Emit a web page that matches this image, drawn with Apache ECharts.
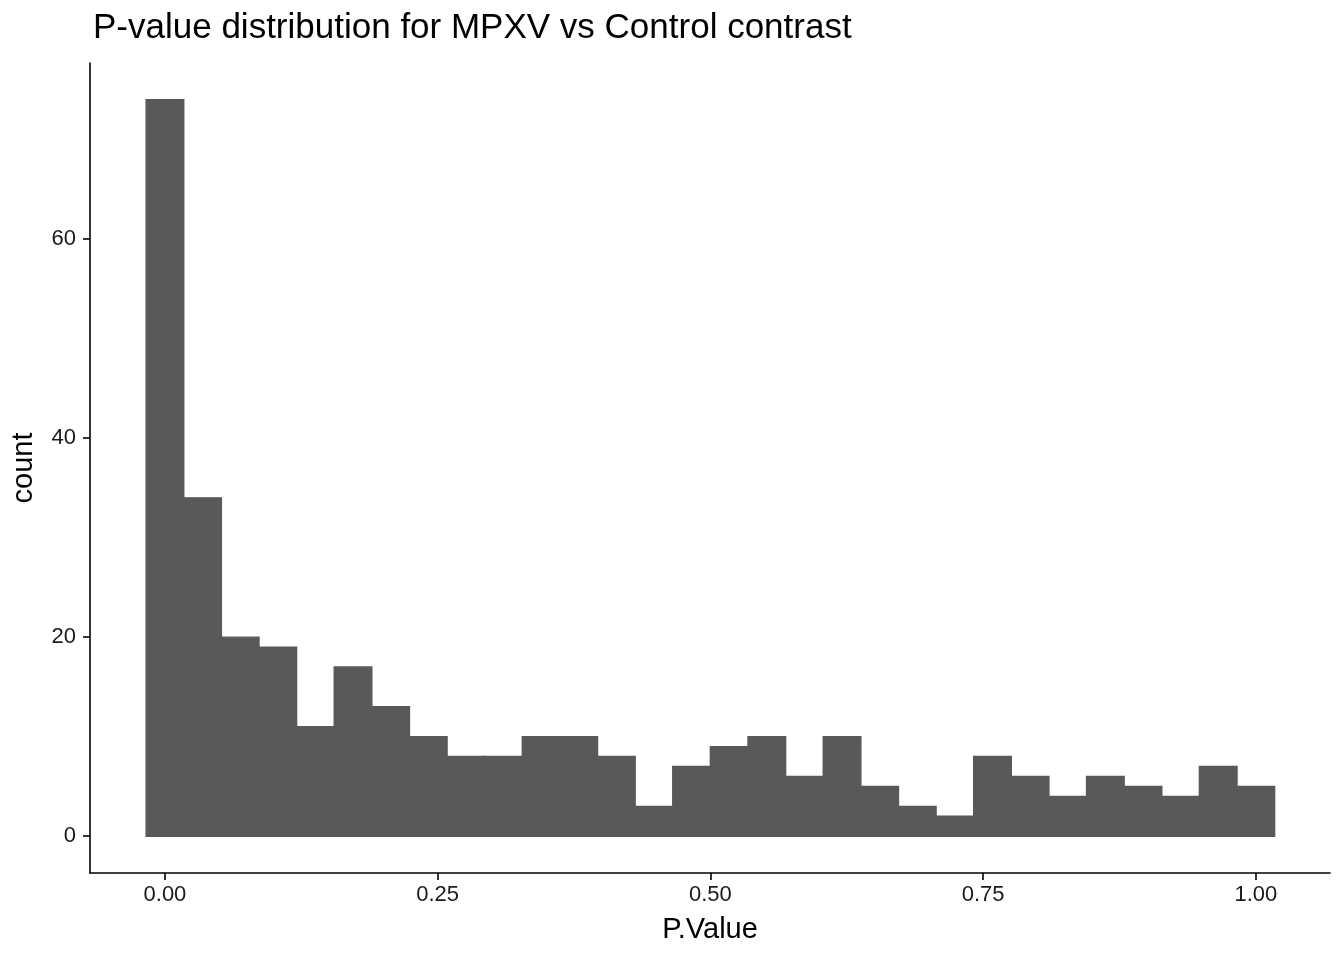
<!DOCTYPE html>
<html lang="en">
<head>
    <meta charset="UTF-8">
    <title>P-value distribution</title>
    <script src="https://cdn.jsdelivr.net/npm/echarts@6/dist/echarts.min.js"></script>
    <style>
        html, body { margin: 0; padding: 0; background: #fff; }
        #main { width: 1344px; height: 960px; }
    </style>
</head>
<body>
    <div id="main"></div>
    <script type="text/javascript">
        // histogram data: 30 bins, width 1/29, centred on 0 ... 1
        var binWidth = 1 / 29;
        var counts = [74, 34, 20, 19, 11, 17, 13, 10, 8, 8,
                      10, 10, 8, 3, 7, 9, 10, 6, 10, 5,
                      3, 2, 8, 6, 4, 6, 5, 4, 7, 5];
        var xTicks = [0, 0.25, 0.5, 0.75, 1];
        var yTicks = [0, 20, 40, 60];

        var bins = counts.map(function (c, i) { return [i * binWidth, c]; });

        var font = 'Liberation Sans, Arial, sans-serif';
        var myChart = echarts.init(document.getElementById('main'));

        var option = {
            backgroundColor: '#fff',
            animation: false,
            title: {
                text: 'P-value distribution for MPXV vs Control contrast',
                left: 88,
                top: 6,
                textStyle: { fontFamily: font, fontSize: 35, fontWeight: 'normal', color: '#000' }
            },
            grid: { left: 90, right: 14, top: 63, bottom: 87, containLabel: false },
            xAxis: {
                type: 'value',
                min: -0.0687,
                max: 1.068,
                name: 'P.Value',
                nameLocation: 'middle',
                nameGap: 42,
                nameTextStyle: { fontFamily: font, fontSize: 29, color: '#000' },
                axisLine: { show: true, onZero: false, lineStyle: { color: '#000', width: 1.6 } },
                axisTick: { show: true, customValues: xTicks, length: 7, lineStyle: { color: '#000', width: 1.6 } },
                axisLabel: {
                    customValues: xTicks,
                    fontFamily: font, fontSize: 22, color: '#1a1a1a', margin: 11,
                    formatter: function (v) { return v.toFixed(2); }
                },
                splitLine: { show: false }
            },
            yAxis: {
                type: 'value',
                min: -3.7,
                max: 77.7,
                name: 'count',
                nameLocation: 'middle',
                nameGap: 52,
                nameRotate: 90,
                nameTextStyle: { fontFamily: font, fontSize: 29, color: '#000' },
                axisLine: { show: true, onZero: false, lineStyle: { color: '#000', width: 1.6 } },
                axisTick: { show: true, customValues: yTicks, length: 7, lineStyle: { color: '#000', width: 1.6 } },
                axisLabel: {
                    customValues: yTicks,
                    fontFamily: font, fontSize: 22, color: '#1a1a1a', margin: 14
                },
                splitLine: { show: false }
            },
            series: [{
                type: 'custom',
                data: bins,
                renderItem: function (params, api) {
                    var x = api.value(0);
                    var top = api.coord([x - binWidth / 2, api.value(1)]);
                    var base = api.coord([x + binWidth / 2, 0]);
                    return {
                        type: 'rect',
                        shape: { x: top[0], y: top[1], width: base[0] - top[0], height: base[1] - top[1] },
                        style: { fill: '#595959', stroke: '#595959', lineWidth: 1.4 }
                    };
                }
            }]
        };
        myChart.setOption(option);
    </script>
</body>
</html>
